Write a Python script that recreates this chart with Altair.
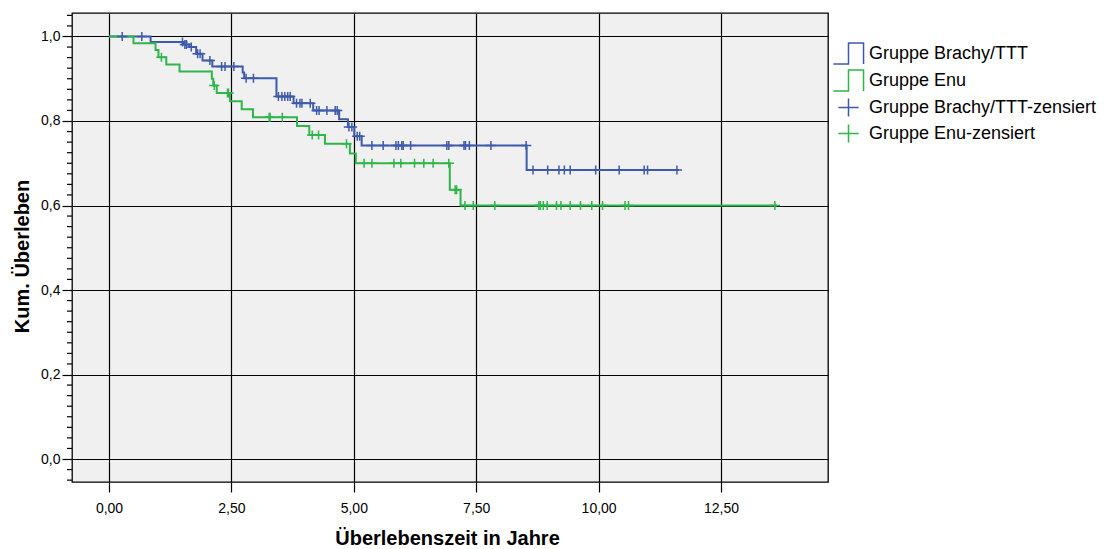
import altair as alt
import pandas as pd

BLUE = "#3e5aab"
GREEN = "#2eb64a"
FONT = "Liberation Sans"

# ---- Kaplan-Meier data ----
blue_event_t = [0.85, 1.52, 1.64, 1.78, 1.91, 2.11, 2.73, 2.76, 3.42, 3.77, 4.17,
                4.70, 4.88, 5.01, 5.16, 8.53]
blue_event_s = [0.987, 0.981, 0.975, 0.959, 0.943, 0.929, 0.915, 0.901, 0.858, 0.842,
                0.825, 0.804, 0.786, 0.764, 0.742, 0.684]
blue_end = 11.64
blue_cens_t = [0.27, 0.67, 1.50, 1.55, 1.58, 1.68, 1.81, 1.86, 2.06, 2.30, 2.37, 2.55,
               2.80, 2.95, 3.46, 3.53, 3.59, 3.65, 3.70, 3.83, 3.90, 3.94, 4.11, 4.24,
               4.29, 4.45, 4.62, 4.66, 4.90, 4.96, 5.07, 5.12, 5.37, 5.60, 5.86, 5.91,
               5.98, 6.01, 6.16, 6.90, 6.94, 7.25, 7.28, 7.36, 7.80, 8.52, 8.66, 8.96,
               9.19, 9.30, 9.42, 9.94, 10.42, 10.93, 11.00, 11.60]

green_event_t = [0.50, 0.95, 1.01, 1.17, 1.44, 2.10, 2.13, 2.20, 2.47, 2.71, 2.94,
                 3.84, 4.09, 4.41, 4.92, 5.04, 6.96, 7.18]
green_event_s = [0.984, 0.968, 0.951, 0.934, 0.917, 0.900, 0.884, 0.866, 0.847, 0.828,
                 0.809, 0.788, 0.767, 0.746, 0.723, 0.700, 0.637, 0.600]
green_end = 13.64
green_cens_t = [1.07, 2.15, 2.42, 2.44, 3.27, 3.29, 3.54, 4.15, 4.28, 4.85, 5.21, 5.37,
                5.82, 5.96, 6.24, 6.43, 6.62, 6.94, 7.07, 7.10, 7.27, 7.44, 7.88, 8.78,
                8.81, 8.87, 8.95, 9.14, 9.23, 9.42, 9.63, 9.86, 10.08, 10.54, 10.61, 13.60]

groups = ["Gruppe Brachy/TTT", "Gruppe Enu"]
legend_labels = ["Gruppe Brachy/TTT", "Gruppe Enu",
                 "Gruppe Brachy/TTT-zensiert", "Gruppe Enu-zensiert"]

x_ticks = [0, 2.5, 5, 7.5, 10, 12.5]
y_ticks = [0.0, 0.2, 0.4, 0.6, 0.8, 1.0]
y_minor_ticks = [-0.05, -0.025, 0.025, 0.05, 0.075, 0.1, 0.125, 0.15, 0.175,
                 0.225, 0.25, 0.275, 0.3, 0.325, 0.35, 0.375,
                 0.425, 0.45, 0.475, 0.5, 0.525, 0.55, 0.575,
                 0.625, 0.65, 0.675, 0.7, 0.725, 0.75, 0.775,
                 0.825, 0.85, 0.875, 0.9, 0.925, 0.95, 0.975, 1.025, 1.05]

x_domain = [-0.756, 14.685]
y_domain = [-0.0544, 1.0556]


def step_rows(name, ts, ss, end):
    rows = [{"grp": name, "t": 0.0, "s": 1.0}]
    for t, s in zip(ts, ss):
        rows.append({"grp": name, "t": t, "s": s})
    rows.append({"grp": name, "t": end, "s": ss[-1]})
    return rows


def surv_at(t, ts, ss):
    s = 1.0
    for ti, si in zip(ts, ss):
        if ti <= t:
            s = si
    return s


blue_df = pd.DataFrame(step_rows(groups[0], blue_event_t, blue_event_s, blue_end))
green_df = pd.DataFrame(step_rows(groups[1], green_event_t, green_event_s, green_end))

cens_rows = []
for t in blue_cens_t:
    cens_rows.append({"leg": legend_labels[2], "t": t, "s": surv_at(t, blue_event_t, blue_event_s)})
for t in green_cens_t:
    cens_rows.append({"leg": legend_labels[3], "t": t, "s": surv_at(t, green_event_t, green_event_s)})
cens_df = pd.DataFrame(cens_rows)

minor_df = pd.DataFrame({"s": y_minor_ticks})

xscale = alt.Scale(domain=x_domain, nice=False, zero=False)
yscale = alt.Scale(domain=y_domain, nice=False, zero=False)

STEP = "M-1.18,0.82H0V-0.82H1.18V0.82"
PLUS = "M-0.8,0H0.8M0,-0.7V0.7"

x_axis = alt.Axis(values=x_ticks, grid=True, gridColor="black", gridWidth=1.2,
                  domain=False, ticks=True, tickSize=10, tickColor="black", tickWidth=1.2,
                  labelExpr="replace(format(datum.value, '.2f'), '.', ',')",
                  labelFont=FONT, labelFontSize=14, labelColor="black", labelPadding=9,
                  title="Überlebenszeit in Jahre", titleFont=FONT, titleFontSize=20,
                  titleFontWeight="bold", titleColor="black", titleX=375, titleY=62,
                  titleBaseline="alphabetic", titleAlign="center")
y_axis = alt.Axis(values=y_ticks, grid=True, gridColor="black", gridWidth=1.2,
                  domain=False, ticks=True, tickSize=10, tickColor="black", tickWidth=1.2,
                  labelExpr="replace(format(datum.value, '.1f'), '.', ',')",
                  labelFont=FONT, labelFontSize=14, labelColor="black", labelPadding=2,
                  title="Kum. Überleben", titleFont=FONT, titleFontSize=20,
                  titleFontWeight="bold", titleColor="black", titleAngle=270,
                  titleX=-44, titleY=243, titleBaseline="alphabetic", titleAlign="center")

X = alt.X("t:Q", scale=xscale, axis=x_axis)
Y = alt.Y("s:Q", scale=yscale, axis=y_axis)

minor = alt.Chart(minor_df).mark_rule(color="black", strokeWidth=1.2).encode(
    x=alt.value(-5), x2=alt.value(0), y=Y,
)

blue_line = alt.Chart(blue_df).mark_line(interpolate="step-after", strokeWidth=2,
                                         color=BLUE).encode(x=X, y=Y)
green_line = alt.Chart(green_df).mark_line(interpolate="step-after", strokeWidth=2,
                                           color=GREEN).encode(x=X, y=Y)

leg = alt.Legend(orient="none", legendX=763, legendY=27, symbolSize=650,
                 symbolStrokeWidth=1.5, labelFont=FONT, labelFontSize=18,
                 labelColor="black", labelLimit=400, rowPadding=0,
                 padding=0, labelOffset=7)

points = alt.Chart(cens_df).mark_point(filled=False, size=165, strokeWidth=1.5, opacity=1).encode(
    x=X, y=Y,
    color=alt.Color("leg:N", scale=alt.Scale(domain=legend_labels, range=[BLUE, GREEN, BLUE, GREEN]),
                    title=None, legend=leg),
    shape=alt.Shape("leg:N", scale=alt.Scale(domain=legend_labels, range=[STEP, STEP, PLUS, PLUS]),
                    title=None, legend=leg),
)

chart = alt.layer(minor, blue_line, green_line, points).properties(
    width=756, height=469,
    autosize=alt.AutoSizeParams(type="none"),
    padding={"left": 72, "top": 13, "right": 276, "bottom": 67},
    background="white",
).configure_view(fill="#f0f0f0", stroke="black", strokeWidth=1.3)

chart.save("out.html", embed_options={"renderer": "svg", "actions": False})
